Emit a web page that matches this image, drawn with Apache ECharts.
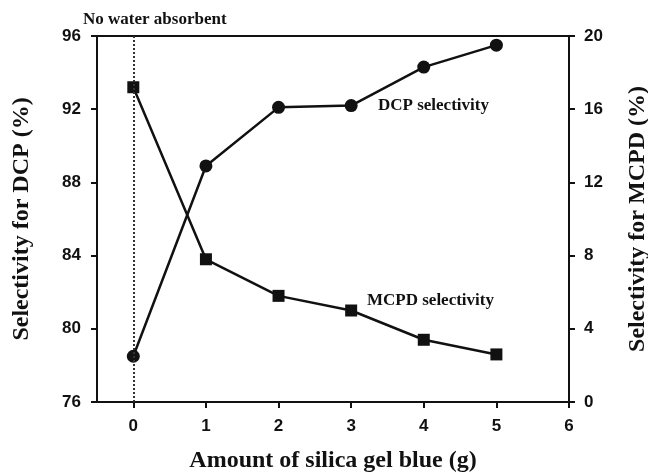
<!DOCTYPE html>
<html><head><meta charset="utf-8">
<script src="https://cdn.jsdelivr.net/npm/echarts@6/dist/echarts.min.js"></script>
<style>html,body{margin:0;padding:0;background:#fff}#c{width:648px;height:473px}</style>
</head><body><div id="c"></div>
<script>
const amounts = [0, 1, 2, 3, 4, 5];
const dcpSelectivity = [78.5, 88.9, 92.1, 92.2, 94.3, 95.5];
const mcpdSelectivity = [17.2, 7.8, 5.8, 5.0, 3.4, 2.6];
const xTickValues = [0, 1, 2, 3, 4, 5, 6];

const serif = "'Liberation Serif','DejaVu Serif',serif";
const sans = "'Liberation Sans','DejaVu Sans',sans-serif";
const tickLabel = {color:'#111', fontFamily: sans, fontWeight:'bold', fontSize:17};
const titleStyle = {color:'#111', fontFamily: serif, fontWeight:'bold', fontSize:24};

const chart = echarts.init(document.getElementById('c'), null, {renderer:'canvas'});
chart.setOption({
  animation:false,
  grid:{left:97, right:79, top:36, bottom:71, containLabel:false, outerBoundsMode:'none'},
  xAxis:[{
    type:'value', min:-0.5, max:6, position:'bottom',
    name:'Amount of silica gel blue (g)', nameLocation:'middle', nameGap:47,
    nameTextStyle:titleStyle,
    axisLine:{onZero:false, lineStyle:{color:'#111', width:2}},
    axisTick:{show:true, inside:false, length:6, lineStyle:{color:'#111', width:2}, customValues:xTickValues},
    axisLabel:Object.assign({margin:16, customValues:xTickValues}, tickLabel),
    splitLine:{show:false}
  },{
    type:'value', min:-0.5, max:6, position:'top',
    axisLine:{onZero:false, lineStyle:{color:'#111', width:2}},
    axisTick:{show:false}, axisLabel:{show:false}, splitLine:{show:false}
  }],
  yAxis:[{
    type:'value', min:76, max:96, interval:4, position:'left',
    name:'Selectivity for DCP (%)', nameLocation:'middle', nameGap:63, nameRotate:90,
    nameTextStyle:titleStyle,
    axisLine:{show:true, onZero:false, lineStyle:{color:'#111', width:2}},
    axisTick:{show:true, length:6, lineStyle:{color:'#111', width:2}},
    axisLabel:Object.assign({margin:16}, tickLabel),
    splitLine:{show:false}
  },{
    type:'value', min:0, max:20, interval:4, position:'right',
    name:'Selectivity for MCPD (%)', nameLocation:'middle', nameGap:57, nameRotate:90,
    nameTextStyle:titleStyle,
    axisLine:{show:true, onZero:false, lineStyle:{color:'#111', width:2}},
    axisTick:{show:true, length:6, lineStyle:{color:'#111', width:2}},
    axisLabel:Object.assign({margin:15}, tickLabel),
    splitLine:{show:false}
  }],
  series:[{
    name:'DCP selectivity', type:'line', xAxisIndex:0, yAxisIndex:0,
    data: amounts.map((a,i)=>[a, dcpSelectivity[i]]),
    symbol:'circle', symbolSize:13,
    lineStyle:{color:'#111', width:2.5}, itemStyle:{color:'#111'},
    z:3,
    markLine:{
      silent:true, symbol:['none','none'],
      label:{show:false},
      lineStyle:{color:'#333', type:'dotted', width:2},
      data:[{xAxis:0}]
    }
  },{
    name:'MCPD selectivity', type:'line', xAxisIndex:0, yAxisIndex:1,
    data: amounts.map((a,i)=>[a, mcpdSelectivity[i]]),
    symbol:'rect', symbolSize:12,
    lineStyle:{color:'#111', width:2.5}, itemStyle:{color:'#111'},
    z:3
  }],
  graphic:[
    {type:'text', left:83, top:11, style:{text:'No water absorbent', fill:'#111', font:"bold 17px 'Liberation Serif',serif"}},
    {type:'text', left:378, top:97, style:{text:'DCP selectivity', fill:'#111', font:"bold 17px 'Liberation Serif',serif"}},
    {type:'text', left:367, top:292, style:{text:'MCPD selectivity', fill:'#111', font:"bold 17px 'Liberation Serif',serif"}}
  ]
});
</script></body></html>
